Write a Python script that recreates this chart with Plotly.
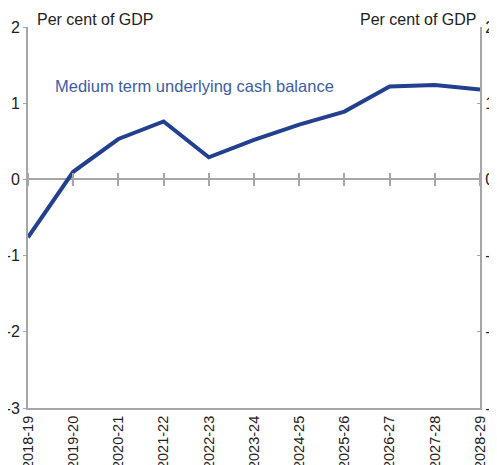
import plotly.graph_objects as go

years = ["2018-19", "2019-20", "2020-21", "2021-22", "2022-23", "2023-24",
         "2024-25", "2025-26", "2026-27", "2027-28", "2028-29"]
balance = [-0.76, 0.10, 0.53, 0.76, 0.29, 0.52, 0.72, 0.89, 1.22, 1.24, 1.18]
y_ticks = [-3, -2, -1, 0, 1, 2]
y_tick_text = ["-3", "-2", "-1", "0", "1", "2"]
series_name = "Medium term underlying cash balance"
unit_label = "Per cent of GDP"

FONT = "Liberation Sans, Arial, sans-serif"
AXIS_GREY = "#a6a6a6"
LINE_BLUE = "#22408f"
TEXT_BLUE = "#3d5ca6"
TEXT = "#222222"

fig = go.Figure()
fig.add_trace(go.Scatter(x=years, y=balance, mode="lines",
                         line=dict(color=LINE_BLUE, width=4), name=series_name,
                         showlegend=False, hoverinfo="skip"))

fig.update_layout(
    width=497, height=457,
    margin=dict(l=20, r=25, t=19, b=57, autoexpand=False),
    paper_bgcolor="white", plot_bgcolor="white",
    font=dict(family=FONT, size=15, color=TEXT),
    showlegend=False,
    xaxis=dict(type="category", categoryorder="array", categoryarray=years,
               range=[0, len(years) - 1], showgrid=False, zeroline=False,
               showline=True, linecolor=AXIS_GREY, linewidth=2,
               ticks="", tickangle=-90, tickfont=dict(size=14.5, color=TEXT),
               anchor="y", automargin=False, ticklabeloverflow="allow"),
    xaxis2=dict(matches="x", overlaying="x", anchor="free", position=0.6,
                side="bottom", showticklabels=False, showline=False,
                showgrid=False, zeroline=False, ticks="outside", ticklen=6,
                tickcolor=AXIS_GREY, tickwidth=1.5, automargin=False),
    xaxis3=dict(matches="x", overlaying="x", anchor="free", position=0.6,
                side="top", showticklabels=False, showline=False,
                showgrid=False, zeroline=False, ticks="outside", ticklen=6,
                tickcolor=AXIS_GREY, tickwidth=1.5, automargin=False),
    yaxis=dict(range=[-3, 2], tickvals=y_ticks, ticktext=y_tick_text,
               showgrid=False,
               zeroline=True, zerolinecolor=AXIS_GREY, zerolinewidth=1.5,
               showline=True, linecolor=AXIS_GREY, linewidth=2,
               ticks="outside", ticklen=3, tickcolor=AXIS_GREY,
               tickfont=dict(size=16, color=TEXT), anchor="x", automargin=False,
               ticklabeloverflow="allow"),
    yaxis2=dict(matches="y", overlaying="y", side="right", anchor="x",
                tickvals=y_ticks, ticktext=y_tick_text, showgrid=False,
                zeroline=False,
                showline=True, linecolor=AXIS_GREY, linewidth=2,
                ticks="inside", ticklen=3, tickcolor=AXIS_GREY,
                tickfont=dict(size=16, color=TEXT), automargin=False,
                ticklabeloverflow="allow"),
)

# invisible traces to activate the extra axes
fig.add_trace(go.Scatter(x=years, y=balance, xaxis="x2", yaxis="y",
                         mode="lines", line=dict(width=0), opacity=0,
                         showlegend=False, hoverinfo="skip"))
fig.add_trace(go.Scatter(x=years, y=balance, xaxis="x3", yaxis="y2",
                         mode="lines", line=dict(width=0), opacity=0,
                         showlegend=False, hoverinfo="skip"))

fig.add_annotation(text=unit_label, xref="paper", yref="paper", x=0.015, y=1.0,
                   xanchor="left", yanchor="bottom", showarrow=False,
                   font=dict(size=16, color=TEXT), yshift=-3)
fig.add_annotation(text=unit_label, xref="paper", yref="paper", x=0.997, y=1.0,
                   xanchor="right", yanchor="bottom", showarrow=False,
                   font=dict(size=16, color=TEXT), yshift=-3)
fig.add_annotation(text=series_name, xref="paper", yref="paper", x=0.055, y=0.845,
                   xanchor="left", yanchor="middle", showarrow=False,
                   font=dict(size=16.5, color=TEXT_BLUE))

fig.write_html("out.html")
